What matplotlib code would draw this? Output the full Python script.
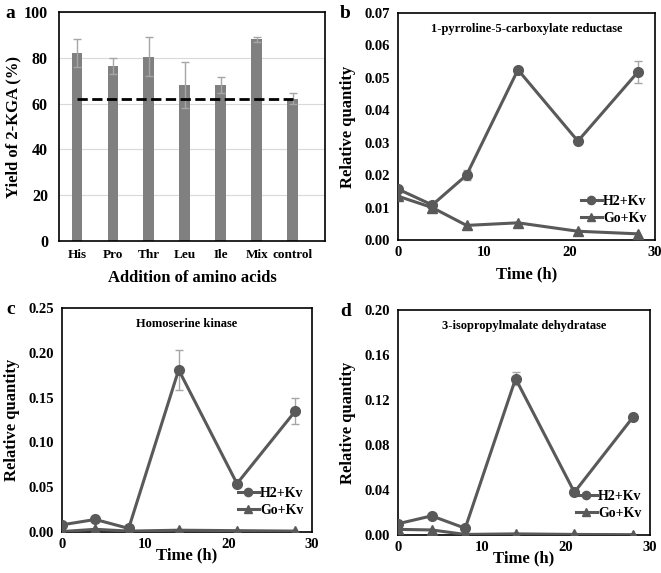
import numpy as np
import matplotlib.pyplot as plt

plt.rcParams['font.family'] = ['Liberation Serif', 'DejaVu Serif']
plt.rcParams['font.weight'] = 'bold'
plt.rcParams['axes.labelweight'] = 'bold'

# panel a data
amino = ['His', 'Pro', 'Thr', 'Leu', 'Ile', 'Mix', 'control']
yield_val = [82, 76.5, 80.5, 68.2, 68, 88, 62.2]
yield_err = [6, 3.5, 8.5, 10, 3.5, 1, 2.5]
control_level = 62.2

# time courses
time_h = [0, 4, 8, 14, 21, 28]

b_h2 = [0.0157, 0.0108, 0.0200, 0.0525, 0.0305, 0.0518]
b_h2_err = [0, 0, 0.0015, 0, 0, 0.0033]
b_go = [0.0135, 0.0100, 0.0045, 0.0053, 0.0027, 0.0019]

c_h2 = [0.008, 0.014, 0.004, 0.181, 0.054, 0.135]
c_h2_err = [0, 0, 0, 0.022, 0, 0.015]
c_go = [0.0005, 0.003, 0.001, 0.002, 0.0015, 0.001]

d_h2 = [0.010, 0.017, 0.006, 0.139, 0.038, 0.105]
d_h2_err = [0, 0, 0, 0.006, 0, 0]
d_go = [0.005, 0.0045, 0.0005, 0.001, 0.0005, 0.0003]

W, H = 661, 573
fig = plt.figure(figsize=(W / 100, H / 100), dpi=100)


def px_axes(x0, y0, x1, y1):
    return fig.add_axes([x0 / W, 1 - y1 / H, (x1 - x0) / W, (y1 - y0) / H])


line_col = '#595959'
err_col = '#a6a6a6'

# ---- a ----
ax = px_axes(59, 12, 325, 241)
xpos = np.arange(len(amino))
ax.bar(xpos, yield_val, width=0.3, color='#808080', zorder=2)
ax.errorbar(xpos, yield_val, yerr=yield_err, fmt='none', ecolor=err_col,
            elinewidth=1, capsize=3, zorder=3)
ax.plot([xpos[0], xpos[-1]], [control_level, control_level], 'k--', lw=2, zorder=4)
ax.set_ylim(0, 100)
ax.set_yticks(range(0, 101, 20))
ax.set_xlim(-0.5, len(amino) - 0.1)
ax.set_xticks(xpos)
ax.set_xticklabels(amino, fontsize=9.5)
ax.yaxis.grid(True, color='#d9d9d9', lw=0.8, zorder=0)
ax.tick_params(axis='y', labelsize=11.5, length=0, pad=8)
ax.tick_params(axis='x', length=0, pad=6)
ax.set_ylabel('Yield of 2-KGA (%)', fontsize=12, labelpad=2)
ax.set_xlabel('Addition of amino acids', fontsize=12, labelpad=6)
for s in ax.spines.values():
    s.set_linewidth(1.2)
fig.text(5 / W, 1 - 14 / H, 'a', fontsize=14, fontweight='bold', va='center')


def time_panel(rect, h2, h2_err, go, ymax, ystep, title, letter, lpos, xlpad):
    ax = px_axes(*rect)
    eb = ax.errorbar(time_h, h2, yerr=h2_err, color=line_col, ecolor=err_col,
                     elinewidth=1, capsize=3, lw=2.2, marker='o', ms=7, zorder=3)
    ln, = ax.plot(time_h, go, color=line_col, lw=2.2, marker='^', ms=7, zorder=3)
    ax.set_xlim(0, 30)
    ax.set_xticks([0, 10, 20, 30])
    ax.set_ylim(0, ymax)
    ax.set_yticks(np.arange(0, ymax + 1e-9, ystep))
    ax.yaxis.set_major_formatter(plt.FormatStrFormatter('%.2f'))
    ax.tick_params(labelsize=10.5, length=0, pad=6)
    ax.tick_params(axis='x', pad=4)
    ax.set_ylabel('Relative quantity', fontsize=12, labelpad=6)
    ax.set_xlabel('Time (h)', fontsize=12, labelpad=xlpad)
    ax.text(0.5, 0.93, title, transform=ax.transAxes, ha='center', va='center',
            fontsize=9, fontweight='bold')
    for s in ax.spines.values():
        s.set_linewidth(1.2)
    ax.legend([eb.lines[0], ln], ['H2+Kv', 'Go+Kv'], loc='lower right',
              bbox_to_anchor=(1.0, 0.03), frameon=False,
              fontsize=10, handlelength=1.5, handletextpad=0.1,
              markerscale=0.85, labelspacing=0.3, borderaxespad=0.2)
    fig.text(lpos[0] / W, 1 - lpos[1] / H, letter, fontsize=14,
             fontweight='bold', va='center')
    return ax


time_panel((398, 13, 655, 240), b_h2, b_h2_err, b_go, 0.07, 0.01,
           '1-pyrroline-5-carboxylate reductase', 'b', (340, 13), 6)
time_panel((62, 308, 312, 532), c_h2, c_h2_err, c_go, 0.25, 0.05,
           'Homoserine kinase', 'c', (6, 309), -2)
time_panel((398, 310, 650, 535), d_h2, d_h2_err, d_go, 0.20, 0.04,
           '3-isopropylmalate dehydratase', 'd', (340, 311), -2)

fig.savefig('out.png', dpi=100)
